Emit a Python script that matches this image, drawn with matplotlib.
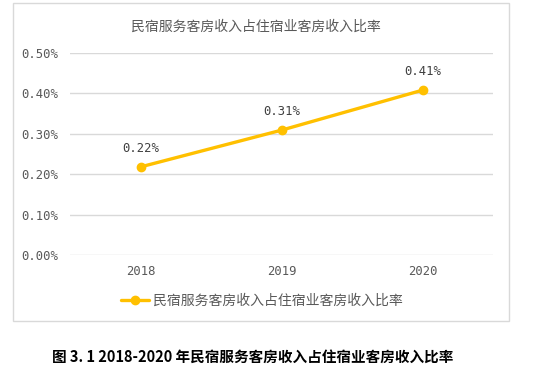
import matplotlib
matplotlib.use("Agg")
import matplotlib.pyplot as plt
from matplotlib.patches import Rectangle
from matplotlib.ticker import FuncFormatter

plt.rcParams['font.family'] = ['Noto Sans CJK SC', 'DejaVu Sans']

categories = ['2018', '2019', '2020']
values = [0.218, 0.309, 0.408]          # percent
labels = ['0.22%', '0.31%', '0.41%']
yticks = [0.0, 0.1, 0.2, 0.3, 0.4, 0.5]
title = '民宿服务客房收入占住宿业客房收入比率'
series_name = '民宿服务客房收入占住宿业客房收入比率'
caption = '图 3. 1 2018-2020 年民宿服务客房收入占住宿业客房收入比率'

W, H = 558, 380
fig = plt.figure(figsize=(W / 100, H / 100), dpi=100)
num_font = ['DejaVu Sans Mono']

# chart frame
fig.patches.append(Rectangle((13 / W, 1 - 321 / H), (509 - 13) / W, (321 - 3) / H,
                             transform=fig.transFigure, fill=False,
                             edgecolor='#d9d9d9', linewidth=1.0))

ax = fig.add_axes([70 / W, 1 - 255 / H, (493 - 70) / W, (255 - 53) / H])
x = list(range(len(categories)))
line, = ax.plot(x, values, color='#FFC000', linewidth=2.4, marker='o',
                markersize=6, solid_capstyle='round', zorder=3)
ax.set_xlim(-0.5, len(categories) - 0.5)
ax.set_ylim(0, 0.5)
ax.set_yticks(yticks)
ax.yaxis.set_major_formatter(FuncFormatter(lambda v, p: f'{v:.2f}%'))
ax.set_xticks(x)
ax.set_xticklabels(categories)
ax.grid(axis='y', color='#d9d9d9', linewidth=1.0)
ax.set_axisbelow(True)
for s in ax.spines.values():
    s.set_visible(False)
ax.tick_params(axis='both', length=0, labelsize=8.8, colors='#595959')
ax.tick_params(axis='y', pad=8.5)
ax.tick_params(axis='x', pad=7)
for t in ax.get_xticklabels() + ax.get_yticklabels():
    t.set_family(num_font)

for xi, v, lab in zip(x, values, labels):
    ax.annotate(lab, (xi, v), xytext=(0, 8.5), textcoords='offset points',
                ha='center', va='bottom', fontsize=8.8, color='#404040',
                family=num_font)

fig.text(256 / W, 1 - 27 / H, title, ha='center', va='center',
         fontsize=10, color='#595959')

leg = fig.legend([line], [series_name], loc='center', bbox_to_anchor=(262 / W, 1 - 301 / H),
                 frameon=False, fontsize=10, handlelength=2.0, handletextpad=0.3,
                 labelcolor='#595959')

fig.text(253 / W, 1 - 357 / H, caption, ha='center', va='center',
         fontsize=10.5, color='black', fontweight='bold')

fig.savefig('out.png', dpi=100)
